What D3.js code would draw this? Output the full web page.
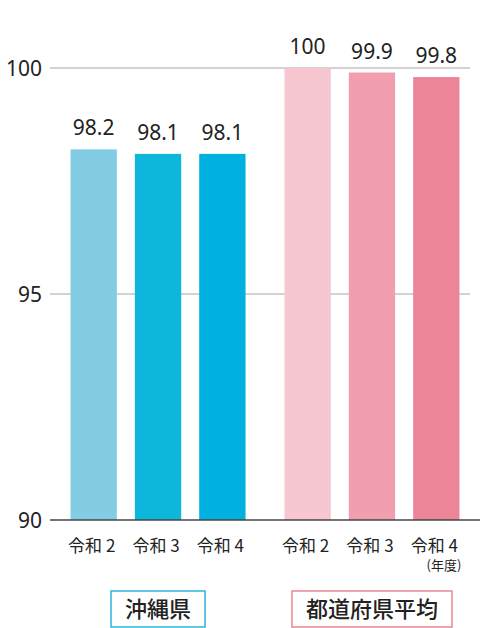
<!DOCTYPE html>
<html>
<head>
<meta charset="utf-8">
<script src="https://d3js.org/d3.v7.min.js"></script>
<style>
  body { margin:0; background:#fff; }
  svg text { font-family: "Noto Sans", "Noto Sans CJK JP", sans-serif; fill:#222; }
  .jp { font-family: "Noto Sans CJK JP", sans-serif; }
</style>
</head>
<body>
<script>
// data
var groups = ["沖縄県", "都道府県平均"];
var years = ["令和 2", "令和 3", "令和 4"];
var okinawa = [98.2, 98.1, 98.1];
var national = [100, 99.9, 99.8];
var yTicks = [90, 95, 100];
var okinawaColors = ["#82cde3", "#0db7dc", "#00b0de"];
var nationalColors = ["#f6c7d0", "#f19fae", "#ec8598"];
var borderColors = ["#2bb5e0", "#ec8598"];

var W = 481, H = 628;
var svg = d3.select("body").append("svg").attr("width", W).attr("height", H);

var series = [okinawa, national];
var colors = [okinawaColors, nationalColors];

var x0 = d3.scaleBand().domain(groups).range([50, 480]).paddingInner(0.182).paddingOuter(0.096);
var x1 = d3.scaleBand().domain(years).range([0, x0.bandwidth()]).paddingInner(0.28).paddingOuter(0);
var y = d3.scaleLinear().domain([90, 100]).range([520, 68]);

// gridlines
svg.selectAll("line.grid")
  .data(yTicks.filter(function(d){ return d > 90; }))
  .enter().append("line")
  .attr("class", "grid")
  .attr("x1", 50).attr("x2", 470)
  .attr("y1", function(d){ return y(d); })
  .attr("y2", function(d){ return y(d); })
  .attr("stroke", "#a8a8a8").attr("stroke-width", 1.2);

// y tick labels
svg.selectAll("text.ytick")
  .data(yTicks)
  .enter().append("text")
  .attr("class", "ytick")
  .attr("x", 42)
  .attr("y", function(d){ return y(d); })
  .attr("dy", "0.36em")
  .attr("text-anchor", "end")
  .style("font-size", "21px")
  .text(function(d){ return d; });

// bars
groups.forEach(function(g, gi) {
  var gEl = svg.append("g").attr("transform", "translate(" + x0(g) + ",0)");
  var rows = years.map(function(yr, i){ return { yr: yr, v: series[gi][i], c: colors[gi][i] }; });

  gEl.selectAll("rect")
    .data(rows)
    .enter().append("rect")
    .attr("x", function(d){ return x1(d.yr); })
    .attr("y", function(d){ return y(d.v); })
    .attr("width", x1.bandwidth())
    .attr("height", function(d){ return y(90) - y(d.v); })
    .attr("fill", function(d){ return d.c; });

  gEl.selectAll("text.val")
    .data(rows)
    .enter().append("text")
    .attr("class", "val")
    .attr("x", function(d){ return x1(d.yr) + x1.bandwidth() / 2; })
    .attr("y", function(d){ return y(d.v) - 14; })
    .attr("text-anchor", "middle")
    .style("font-size", "21px")
    .text(function(d){ return d.v % 1 === 0 ? d.v : d.v.toFixed(1); });

  gEl.selectAll("text.cat")
    .data(rows)
    .enter().append("text")
    .attr("class", "cat jp")
    .attr("x", function(d){ return x1(d.yr) + x1.bandwidth() / 2 - 2; })
    .attr("y", 552)
    .attr("text-anchor", "middle")
    .style("font-size", "17px")
    .text(function(d){ return d.yr; });

  // legend box
  var label = svg.append("text")
    .attr("class", "jp")
    .attr("x", x0(g) + x0.bandwidth() / 2)
    .attr("y", 617)
    .attr("text-anchor", "middle")
    .style("font-size", "22px")
    .style("font-weight", "500")
    .text(g);
  var bb = label.node().getBBox();
  svg.insert("rect", "text")
    .attr("x", bb.x - 14)
    .attr("y", 591)
    .attr("width", bb.width + 28)
    .attr("height", 36)
    .attr("fill", "#fff")
    .attr("stroke", borderColors[gi])
    .attr("stroke-width", 1.5);
});

// baseline
svg.append("line")
  .attr("x1", 50).attr("x2", 480)
  .attr("y1", y(90)).attr("y2", y(90))
  .attr("stroke", "#444").attr("stroke-width", 1.5);

svg.append("text")
  .attr("class", "jp")
  .attr("x", 444)
  .attr("y", 570)
  .attr("text-anchor", "middle")
  .style("font-size", "13px")
  .text("(年度)");
</script>
</body>
</html>
